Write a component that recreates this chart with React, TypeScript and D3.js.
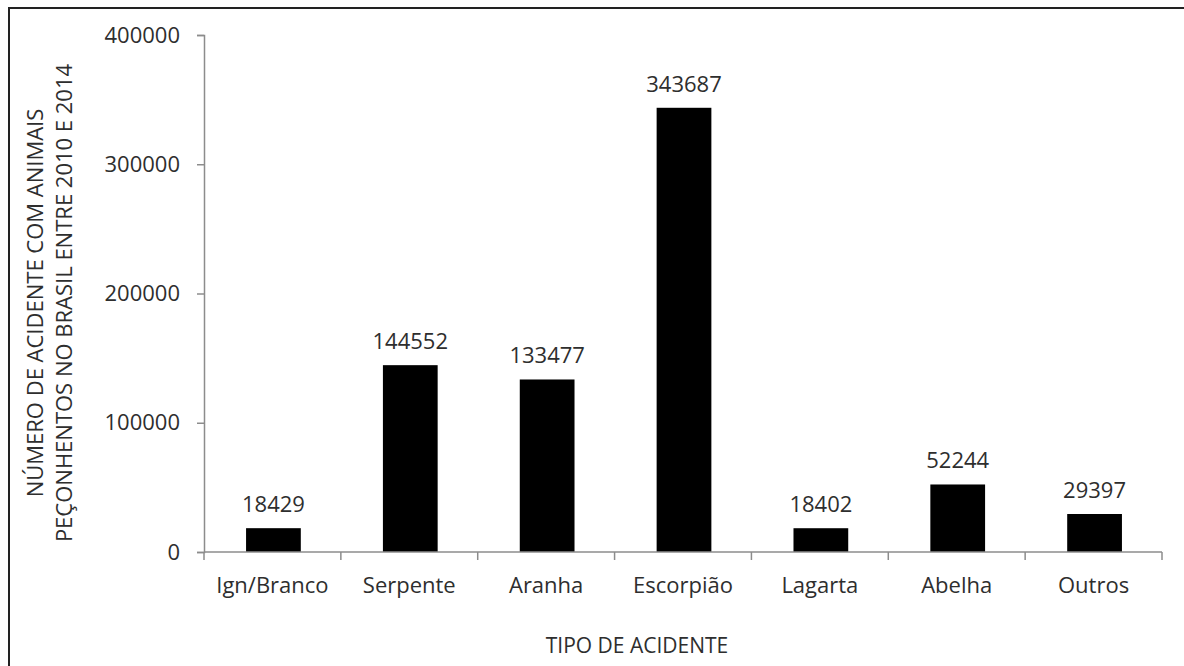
import React, { useEffect, useRef } from 'react';
import * as d3 from 'd3';

const categories = ['Ign/Branco', 'Serpente', 'Aranha', 'Escorpião', 'Lagarta', 'Abelha', 'Outros'];
const values = [18429, 144552, 133477, 343687, 18402, 52244, 29397];
const yTicks = [0, 100000, 200000, 300000, 400000];
const yTitleLines = ['NÚMERO DE ACIDENTE COM ANIMAIS', 'PEÇONHENTOS NO BRASIL ENTRE 2010 E 2014'];
const xTitle = 'TIPO DE ACIDENTE';

const W = 1184;
const H = 666;
const FONT = '"Open Sans", sans-serif';
const TEXT = '#2e2e2e';
const AXIS = '#8c8c8c';

const App: React.FC = () => {
    const svgRef = useRef<SVGSVGElement>(null);

    useEffect(() => {
        if (!svgRef.current) return;
        const svg = d3.select(svgRef.current);
        svg.selectAll('*').remove();

        const left = 204;
        const right = 1162;
        const top = 35;
        const bottom = 552;

        const x = d3.scaleBand<string>().domain(categories).range([left, right]).padding(0);
        const y = d3.scaleLinear().domain([0, 400000]).range([bottom, top]);

        // moldura
        svg.append('rect')
            .attr('x', 9)
            .attr('y', 8)
            .attr('width', W + 20)
            .attr('height', H + 20)
            .attr('fill', 'none')
            .attr('stroke', '#222')
            .attr('stroke-width', 2);

        // barras
        const bw = x.bandwidth() * 0.4;
        svg.append('g')
            .selectAll('rect')
            .data(values)
            .join('rect')
            .attr('x', (d, i) => (x(categories[i]) as number) + x.bandwidth() / 2 - bw / 2 + 1)
            .attr('y', (d) => y(d))
            .attr('width', bw)
            .attr('height', (d) => bottom - y(d))
            .attr('fill', '#000');

        // rótulos de valor
        svg.append('g')
            .selectAll('text')
            .data(values)
            .join('text')
            .attr('x', (d, i) => (x(categories[i]) as number) + x.bandwidth() / 2 + 1)
            .attr('y', (d) => y(d) - 16)
            .attr('text-anchor', 'middle')
            .style('font-family', FONT)
            .style('font-size', '22px')
            .style('fill', TEXT)
            .text((d) => String(d));

        // eixo Y
        const gy = svg.append('g')
            .attr('transform', `translate(${left},0)`)
            .call(d3.axisLeft(y).tickValues(yTicks).tickSize(7).tickSizeOuter(7).tickPadding(17).tickFormat((d) => String(d)));
        gy.selectAll('path, line').attr('stroke', AXIS).attr('stroke-width', 1.5);
        gy.selectAll('text')
            .style('font-family', FONT)
            .style('font-size', '22px')
            .style('fill', TEXT);

        // eixo X
        const gx = svg.append('g')
            .attr('transform', `translate(0,${bottom})`);
        gx.append('line')
            .attr('x1', left)
            .attr('x2', right)
            .attr('stroke', AXIS)
            .attr('stroke-width', 1.5);
        const boundaries = categories.map((c) => x(c) as number).concat([right]);
        gx.selectAll('line.tick')
            .data(boundaries)
            .join('line')
            .attr('class', 'tick')
            .attr('x1', (d) => d)
            .attr('x2', (d) => d)
            .attr('y1', 0)
            .attr('y2', 8)
            .attr('stroke', AXIS)
            .attr('stroke-width', 1.5);
        gx.selectAll('text')
            .data(categories)
            .join('text')
            .attr('x', (d) => (x(d) as number) + x.bandwidth() / 2)
            .attr('y', 41)
            .attr('text-anchor', 'middle')
            .style('font-family', FONT)
            .style('font-size', '22px')
            .style('fill', TEXT)
            .text((d) => d);

        // títulos
        svg.append('text')
            .attr('x', 637)
            .attr('y', 653)
            .attr('text-anchor', 'middle')
            .style('font-family', FONT)
            .style('font-size', '21px')
            .style('fill', TEXT)
            .text(xTitle);

        const yt = svg.append('text')
            .attr('transform', 'translate(0,303) rotate(-90)')
            .attr('text-anchor', 'middle')
            .style('font-family', FONT)
            .style('font-size', '22px')
            .style('fill', TEXT);
        yTitleLines.forEach((line, i) => {
            yt.append('tspan')
                .attr('x', 0)
                .attr('y', i === 0 ? 43 : 72)
                .text(line);
        });
    }, []);

    return (
        <svg
            ref={svgRef}
            width={W}
            height={H}
            style={{ position: 'absolute', left: 0, top: 0, background: '#fff', display: 'block' }}
        />
    );
};

export default App;
